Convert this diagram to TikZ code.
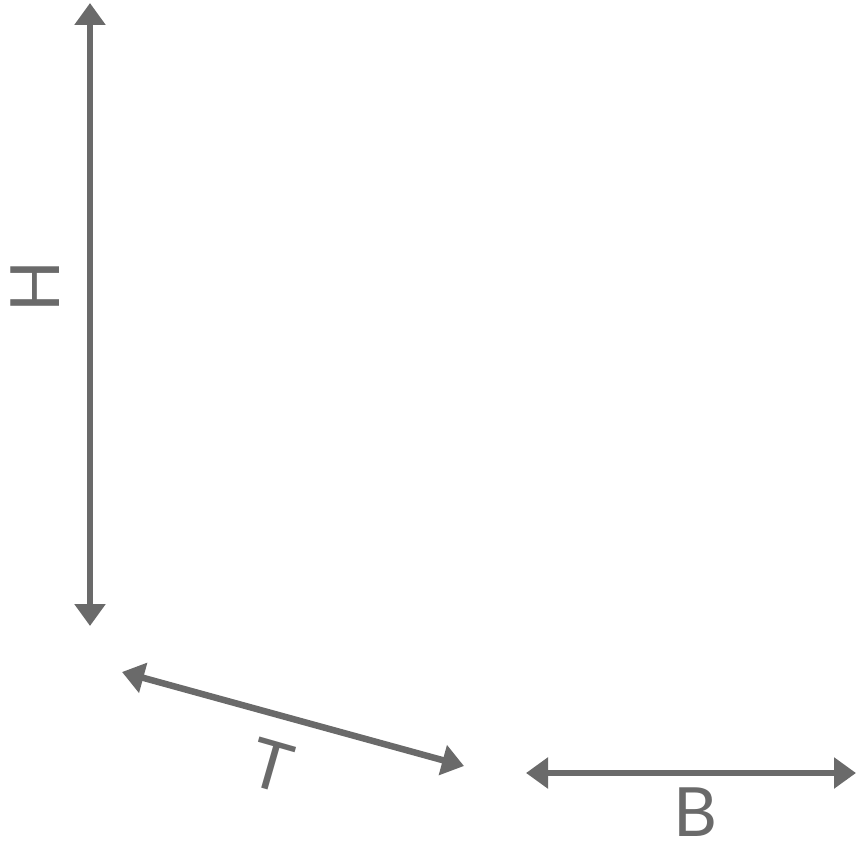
\documentclass[tikz,border=0pt]{standalone}
\usepackage{fontspec}
\setmainfont{Lato}
\usetikzlibrary{arrows.meta}
\definecolor{dimgray}{HTML}{6A6A6A}
\tikzset{
  dimarrow/.style={draw=dimgray, line width=6.5pt, {Triangle[width=30pt,length=22pt]}-{Triangle[width=30pt,length=22pt]}},
  dimlabel/.style={text=dimgray, font=\fontsize{68}{68}\selectfont, inner sep=0pt}
}
\begin{document}
\begin{tikzpicture}[x=1pt,y=-1pt]
\useasboundingbox (0,0) rectangle (867,850);
\coordinate (h1) at (90,3);
\coordinate (h2) at (90,626);
\coordinate (t1) at (122,672);
\coordinate (t2) at (464,766);
\coordinate (b1) at (526,773);
\coordinate (b2) at (856,773);
\draw[dimarrow] (h1) -- (h2);
\draw[dimarrow] (t1) -- (t2);
\draw[dimarrow] (b1) -- (b2);
\node[dimlabel, rotate=90] (H) at (35,287) {H};
\node[dimlabel, rotate=-16] (T) at (272,766) {T};
\node[dimlabel] (B) at (695,812) {B};
\end{tikzpicture}
\end{document}
